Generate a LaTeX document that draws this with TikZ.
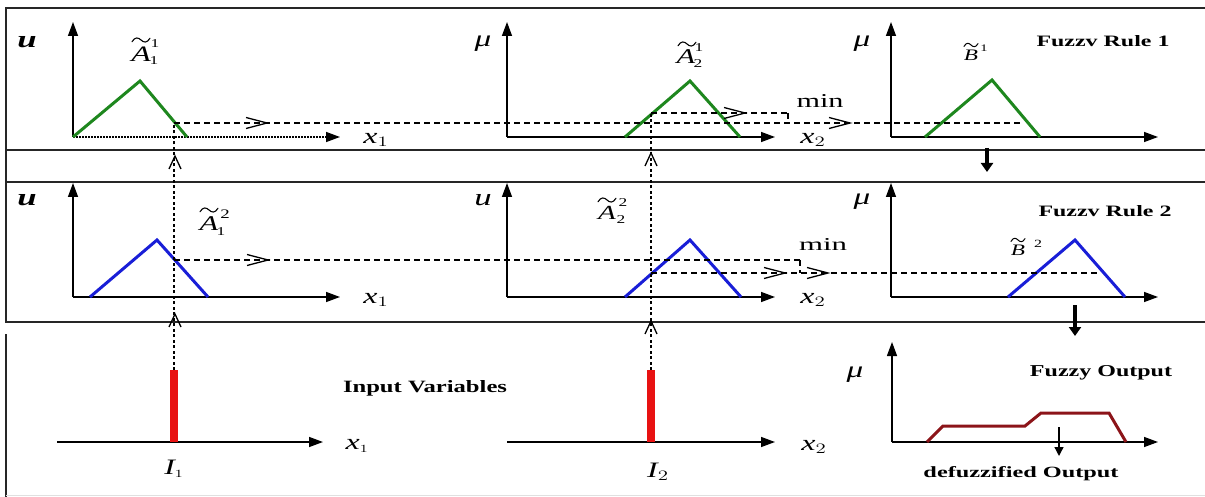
\documentclass[tikz,border=0pt]{standalone}
\usepackage{fontspec}
\setmainfont{Liberation Serif}
\usetikzlibrary{arrows.meta}
\definecolor{mfgreen}{RGB}{30,135,30}
\definecolor{mfblue}{RGB}{25,30,215}
\definecolor{inred}{RGB}{232,18,18}
\definecolor{outred}{RGB}{140,20,25}
\newcommand{\hs}[1]{\scalebox{1.45}[1]{#1}}
\newcommand{\lab}[2]{\fontsize{#1}{#1}\selectfont\hs{#2}}
\begin{document}
\begin{tikzpicture}[x=1pt,y=-1pt,
  frame/.style={line width=1.6pt, black!85},
  axis/.style={line width=1.4pt, -{Triangle[length=14pt,width=10pt]}},
  dotaxis/.style={axis, dash pattern=on 1.5pt off 1.5pt},
  memb/.style={line width=3pt, line join=miter},
  guide/.style={line width=1.3pt, dash pattern=on 6pt off 4pt},
  drop/.style={line width=1.2pt, dash pattern=on 3pt off 2.5pt},
  chev/.style={line width=1.3pt},
  bigdown/.style={line width=3.5pt, -{Triangle[length=9pt,width=12pt]}},
  smalldown/.style={line width=1.3pt, -{Triangle[length=9pt,width=9pt]}},
  bar/.style={line width=8pt, inred},
  lbl/.style={inner sep=0pt, anchor=center},
  tld/.pic={\draw[line width=1.1pt, line cap=round] (-9,1.8) .. controls (-6,-3.5) and (-2.5,-2.5) .. (0,0) .. controls (2.5,2.5) and (6,3.5) .. (9,-1.8);},
  tlds/.pic={\draw[line width=1pt, line cap=round] (-7,1.4) .. controls (-4.5,-3) and (-2,-2) .. (0,0) .. controls (2,2) and (4.5,3) .. (7,-1.4);},
]
\useasboundingbox (0,0) rectangle (1205,497);

% ---------- frames ----------
\draw[frame] (5,8) -- (1205,8);
\draw[frame] (5,150) -- (1205,150);
\draw[frame] (5,182) -- (1205,182);
\draw[frame] (5,322) -- (1205,322);
\draw[frame] (6,8) -- (6,322);
\draw[frame] (6,334) -- (6,497);
\draw[black!12, line width=1pt] (6,495) -- (1205,495);

% ---------- axes ----------
% row 1
\draw[axis] (73,137) -- (73,22);
\draw[dotaxis] (73,137) -- (340,137);
\draw[axis] (507,137) -- (507,22);
\draw[axis] (507,137) -- (775,137);
\draw[axis] (891,137) -- (891,22);
\draw[axis] (891,137) -- (1158,137);
% row 2
\draw[axis] (73,297) -- (73,183);
\draw[axis] (73,297) -- (340,297);
\draw[axis] (507,297) -- (507,183);
\draw[axis] (507,297) -- (775,297);
\draw[axis] (891,297) -- (891,183);
\draw[axis] (891,297) -- (1158,297);
% row 3
\draw[axis] (57,442) -- (323,442);
\draw[axis] (507,442) -- (775,442);
\draw[axis] (892,442) -- (892,342);
\draw[axis] (892,442) -- (1158,442);

% ---------- membership functions ----------
\draw[memb, mfgreen] (73,137) -- (140,81) -- (187,137);
\draw[memb, mfgreen] (625,137) -- (690,81) -- (740,137);
\draw[memb, mfgreen] (925,137) -- (992,80) -- (1040,137);
\draw[memb, mfblue] (90,297) -- (157,240) -- (208,297);
\draw[memb, mfblue] (625,297) -- (690,240) -- (741,297);
\draw[memb, mfblue] (1008,297) -- (1075,240) -- (1125,297);
\draw[memb, outred] (927,442) -- (943,426) -- (1025,426) -- (1041,413) -- (1109,413) -- (1126,442);

% ---------- input bars ----------
\coordinate (i1bot) at (174,442);
\coordinate (i1top) at (174,370);
\coordinate (i2bot) at (651,442);
\coordinate (i2top) at (651,370);

% ---------- guide points ----------
\coordinate (a11) at (174,123);
\coordinate (a12) at (651,113);
\coordinate (a21) at (174,260);
\coordinate (a22) at (651,273);
\coordinate (m1top) at (788,113);
\coordinate (m1bot) at (788,123);
\coordinate (m2top) at (800,260);
\coordinate (m2bot) at (800,273);
\coordinate (b1end) at (1022,123);
\coordinate (b2end) at (1100,273);

% vertical projections
\draw[drop] (i1top) -- (a11);
\draw[drop] (i2top) -- (a12);
\draw[bar] (i1bot) -- (i1top);
\draw[bar] (i2bot) -- (i2top);

% horizontal guides
\draw[guide] (a11) -- (b1end);
\draw[guide] (a12) -- (m1top);
\draw[guide] (m1top) -- (m1bot);
\draw[guide] (a21) -- (m2top);
\draw[guide] (m2top) -- (m2bot);
\draw[guide] (a22) -- (b2end);

% open chevrons on guides
\foreach \x/\y in {267/123, 850/123, 745/113, 268/260, 785/273, 828/273}
  \draw[chev] (\x-21,\y-5.5) -- (\x,\y) -- (\x-21,\y+5.5);
% upward chevrons on projections
\foreach \x/\y in {175/156, 175/314, 651/153, 651/321}
  \draw[chev] (\x-6,\y+13) -- (\x,\y) -- (\x+6,\y+13);

% ---------- block arrows ----------
\coordinate (r1a) at (987,148);
\coordinate (r1b) at (987,172);
\coordinate (r2a) at (1075,305);
\coordinate (r2b) at (1075,336);
\coordinate (dfa) at (1059,427);
\coordinate (dfb) at (1059,456);
\draw[bigdown] (r1a) -- (r1b);
\draw[bigdown] (r2a) -- (r2b);
\draw[smalldown] (dfa) -- (dfb);

% ---------- axis labels ----------
\node[lbl] (u11) at (27,42) {\lab{24}{\bfseries\itshape u}};
\node[lbl] (u12) at (483,44) {\lab{23}{\itshape μ}};
\node[lbl] (u13) at (862,44) {\lab{23}{\itshape μ}};
\node[lbl] (u21) at (27,200) {\lab{24}{\bfseries\itshape u}};
\node[lbl] (u22) at (483,200) {\lab{24}{\itshape u}};
\node[lbl] (u23) at (862,202) {\lab{23}{\itshape μ}};
\node[lbl] (u33) at (855,375) {\lab{23}{\itshape μ}};

\node[lbl] (x11) at (376,140) {\lab{22}{$\textit{x}_{1}$}};
\node[lbl] (x12) at (813,140) {\lab{22}{$\textit{x}_{2}$}};
\node[lbl] (x21) at (376,300) {\lab{22}{$\textit{x}_{1}$}};
\node[lbl] (x22) at (813,300) {\lab{22}{$\textit{x}_{2}$}};
\node[lbl] (x31) at (357,446) {\lab{22}{$\textit{x}_{\scriptscriptstyle 1}$}};
\node[lbl] (x32) at (814,447) {\lab{22}{$\textit{x}_{2}$}};
\node[lbl] (I1) at (174,469) {\lab{22}{$\textit{I}_{\scriptscriptstyle 1}$}};
\node[lbl] (I2) at (658,472) {\lab{22}{$\textit{I}_{2}$}};

% ---------- fuzzy set labels ----------
% A~_1^1
\node[lbl] (A11) at (141,54) {\lab{22}{\itshape A}};
\node[lbl] (A11s) at (155,44) {\lab{12}{1}};
\node[lbl] (A11b) at (154,61) {\lab{12}{1}};
\pic at (141,40) {tld};
% A~_2^1
\node[lbl] (A21) at (686,57) {\lab{21}{\itshape A}};
\node[lbl] (A21s) at (699,48) {\lab{12}{1}};
\node[lbl] (A21b) at (698,64) {\lab{12}{2}};
\pic at (687,44) {tld};
% B~^1
\node[lbl] (B1) at (971,55) {\lab{16}{\itshape B}};
\node[lbl] (B1s) at (984,48) {\lab{10}{1}};
\pic at (971,45) {tlds};
% A~_1^2
\node[lbl] (A12) at (209,224) {\lab{21}{\itshape A}};
\node[lbl] (A12s) at (225,214) {\lab{13}{2}};
\node[lbl] (A12b) at (221,232) {\lab{12}{1}};
\pic at (209,210) {tld};
% A~_2^2
\node[lbl] (A22) at (607,213) {\lab{20}{\itshape A}};
\node[lbl] (A22s) at (623,203) {\lab{12}{2}};
\node[lbl] (A22b) at (621,220) {\lab{12}{2}};
\pic at (607,200) {tld};
% B~^2
\node[lbl] (B2) at (1018,250) {\lab{16}{\itshape B}};
\node[lbl] (B2s) at (1038,244) {\lab{11}{2}};
\pic at (1018,240) {tlds};

% ---------- titles ----------
\node[lbl] (rule1) at (1103,41) {\resizebox{133pt}{11pt}{\bfseries Fuzzv Rule 1}};
\node[lbl] (rule2) at (1105,211) {\resizebox{133pt}{11pt}{\bfseries Fuzzv Rule 2}};
\node[lbl] (inv) at (425,388) {\resizebox{164pt}{12pt}{\bfseries Input Variables}};
\node[lbl] (fout) at (1101,373) {\resizebox{142pt}{11pt}{\bfseries Fuzzy Output}};
\node[lbl] (dout) at (1021,474) {\resizebox{195pt}{11pt}{\bfseries defuzzified Output}};
\node[lbl] (min1) at (820,101) {\resizebox{47pt}{13pt}{min}};
\node[lbl] (min2) at (823,245) {\resizebox{48pt}{12pt}{min}};
\end{tikzpicture}
\end{document}
